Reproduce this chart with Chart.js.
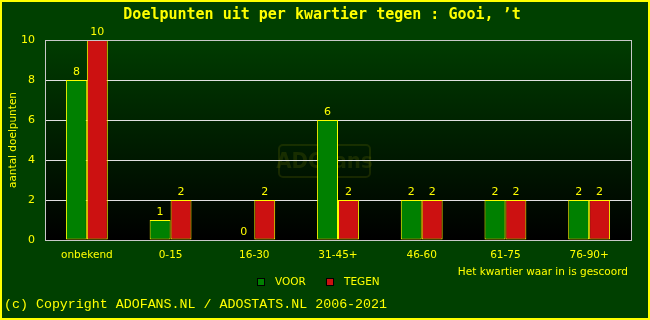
<!DOCTYPE html>
<html><head><meta charset="utf-8">
<script src="https://cdn.jsdelivr.net/npm/chart.js@4"></script>
<style>html,body{margin:0;padding:0;background:#004000;}canvas{display:block;}</style>
</head><body>
<div style="width:650px;height:320px;"><canvas id="c" width="650" height="320"></canvas></div>
<script>
const categories = ["onbekend","0-15","16-30","31-45+","46-60","61-75","76-90+"];
const voor = [8,1,0,6,2,2,2];
const tegen = [10,2,2,2,2,2,2];
const yTicks = [0,2,4,6,8,10];
const titleText = "Doelpunten uit per kwartier tegen : Gooi, \u2019t";
const yTitle = "aantal doelpunten";
const xTitle = "Het kwartier waar in is gescoord";
const copyright = "(c) Copyright ADOFANS.NL / ADOSTATS.NL 2006-2021";

const YEL = "#ffff00";
const decor = {
  id: "decor",
  beforeDraw(chart) {
    const {ctx, chartArea: a} = chart;
    ctx.save();
    ctx.fillStyle = "#004000";
    ctx.fillRect(0,0,chart.width,chart.height);
    const g = ctx.createLinearGradient(0,a.top,0,a.bottom);
    g.addColorStop(0,"#003c00");
    g.addColorStop(1,"#000000");
    ctx.fillStyle = g;
    ctx.fillRect(a.left,a.top,a.right-a.left,a.bottom-a.top);
    // watermark
    ctx.strokeStyle = "rgba(110,120,0,0.22)";
    ctx.lineWidth = 2;
    const wx = 279, wy = 145, ww = 91, wh = 32;
    ctx.beginPath();
    if (ctx.roundRect) ctx.roundRect(wx,wy,ww,wh,4); else ctx.rect(wx,wy,ww,wh);
    ctx.stroke();
    ctx.fillStyle = "rgba(110,120,0,0.22)";
    ctx.font = "bold 22px 'DejaVu Sans Condensed', 'DejaVu Sans'";
    ctx.textAlign = "center"; ctx.textBaseline = "middle";
    ctx.fillText("ADOfans", wx+ww/2, wy+wh/2+1);
    ctx.restore();
  },
  afterDraw(chart) {
    const {ctx, chartArea: a} = chart;
    ctx.save();
    // plot border
    ctx.strokeStyle = "#c8c8c8"; ctx.lineWidth = 1;
    ctx.strokeRect(a.left+0.5, a.top+0.5, a.right-a.left, a.bottom-a.top);
    // value labels
    ctx.fillStyle = YEL;
    ctx.font = "11px 'DejaVu Sans'";
    ctx.textAlign = "center"; ctx.textBaseline = "bottom";
    chart.data.datasets.forEach((ds,i) => {
      chart.getDatasetMeta(i).data.forEach((el,j) => {
        ctx.fillText(String(ds.data[j]), el.x, el.y - 2);
      });
    });
    // title
    ctx.font = "bold 15px 'DejaVu Sans Mono'";
    ctx.textBaseline = "middle";
    ctx.fillText(titleText, 322, 15);
    // y title
    ctx.font = "10.5px 'DejaVu Sans'";
    ctx.save();
    ctx.translate(13, 140); ctx.rotate(-Math.PI/2);
    ctx.fillText(yTitle, 0, 0);
    ctx.restore();
    // x title
    ctx.textAlign = "right";
    ctx.fillText(xTitle, 628, 272);
    // legend
    ctx.textAlign = "left";
    const xs = [257, 326];
    chart.data.datasets.forEach((ds,i) => {
      const x = xs[i];
      ctx.fillStyle = ds.backgroundColor;
      ctx.fillRect(x+0.5, 278.5, 7, 7);
      ctx.strokeStyle = "#000"; ctx.lineWidth = 1;
      ctx.strokeRect(x+0.5, 278.5, 7, 7);
      ctx.fillStyle = YEL;
      ctx.fillText(ds.label, x+18, 282.5);
    });
    // copyright
    ctx.font = "13.3px 'Liberation Mono'";
    ctx.fillText(copyright, 4, 304);
    // outer border
    ctx.strokeStyle = YEL; ctx.lineWidth = 2;
    ctx.strokeRect(1,1,chart.width-2,chart.height-2);
    ctx.restore();
  }
};

new Chart(document.getElementById("c"), {
  type: "bar",
  data: {
    labels: categories,
    datasets: [
      {label: "VOOR", data: voor, backgroundColor: "#008000", borderColor: YEL, borderWidth: 1, borderSkipped: false},
      {label: "TEGEN", data: tegen, backgroundColor: "#cc1111", borderColor: YEL, borderWidth: 1, borderSkipped: false}
    ]
  },
  options: {
    responsive: false,
    animation: false,
    events: [],
    layout: {padding: {left: 0, right: 19, top: 40, bottom: 55}},
    plugins: {legend: {display: false}, title: {display: false}, tooltip: {enabled: false}},
    datasets: {bar: {categoryPercentage: 0.5, barPercentage: 1.0}},
    scales: {
      x: {
        grid: {display: false, drawTicks: false},
        border: {display: false},
        ticks: {color: YEL, font: {family: "DejaVu Sans", size: 10.5}, padding: 9, maxRotation: 0},
        afterFit(s) { s.height = 25; }
      },
      y: {
        min: 0, max: 10,
        afterBuildTicks(s) { s.ticks = yTicks.map(v => ({value: v})); },
        grid: {color: "#e0e0e0", drawTicks: false, lineWidth: 1},
        border: {display: false},
        ticks: {color: YEL, font: {family: "DejaVu Sans", size: 11}, padding: 10},
        afterFit(s) { s.width = 45; }
      }
    }
  },
  plugins: [decor]
});
</script>
</body></html>
